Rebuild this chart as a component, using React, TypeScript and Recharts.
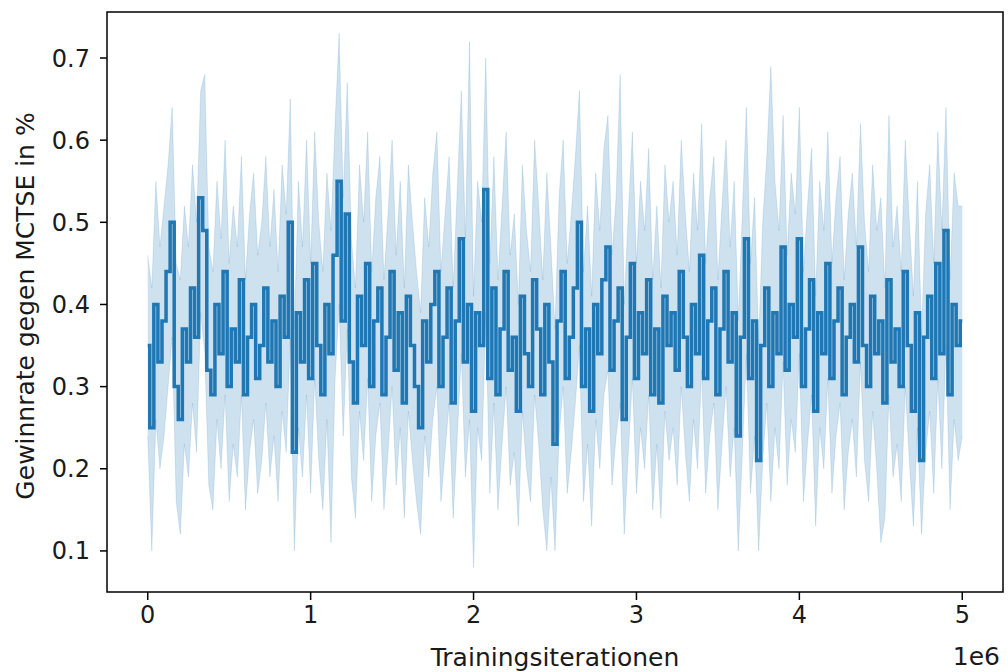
import React from 'react';
import { ComposedChart, Area, Line, XAxis, YAxis, ReferenceArea } from 'recharts';

const STEP = 25000;

const meanRate = [
  0.35, 0.25, 0.40, 0.33, 0.38, 0.44, 0.50, 0.30, 0.26, 0.37,
  0.33, 0.42, 0.36, 0.53, 0.49, 0.32, 0.29, 0.40, 0.34, 0.44,
  0.30, 0.37, 0.33, 0.43, 0.29, 0.36, 0.40, 0.31, 0.35, 0.42,
  0.33, 0.38, 0.30, 0.41, 0.36, 0.50, 0.22, 0.39, 0.33, 0.43,
  0.31, 0.45, 0.35, 0.29, 0.40, 0.34, 0.46, 0.55, 0.38, 0.51,
  0.33, 0.28, 0.41, 0.35, 0.45, 0.30, 0.38, 0.42, 0.29, 0.36,
  0.44, 0.32, 0.39, 0.28, 0.41, 0.35, 0.30, 0.25, 0.38, 0.33,
  0.40, 0.44, 0.30, 0.36, 0.42, 0.28, 0.38, 0.48, 0.33, 0.40,
  0.27, 0.39, 0.35, 0.54, 0.31, 0.42, 0.29, 0.37, 0.44, 0.32,
  0.36, 0.27, 0.41, 0.34, 0.30, 0.43, 0.37, 0.29, 0.40, 0.33,
  0.23, 0.38, 0.44, 0.31, 0.36, 0.42, 0.50, 0.30, 0.37, 0.27,
  0.40, 0.34, 0.43, 0.47, 0.32, 0.38, 0.42, 0.26, 0.36, 0.45,
  0.31, 0.39, 0.34, 0.43, 0.29, 0.37, 0.28, 0.41, 0.35, 0.39,
  0.32, 0.44, 0.36, 0.30, 0.40, 0.34, 0.46, 0.31, 0.38, 0.42,
  0.29, 0.37, 0.44, 0.33, 0.39, 0.24, 0.36, 0.48, 0.31, 0.38,
  0.21, 0.35, 0.42, 0.30, 0.39, 0.34, 0.47, 0.32, 0.40, 0.36,
  0.48, 0.30, 0.37, 0.43, 0.27, 0.39, 0.34, 0.45, 0.31, 0.38,
  0.42, 0.29, 0.36, 0.40, 0.33, 0.47, 0.35, 0.30, 0.41, 0.34,
  0.38, 0.28, 0.43, 0.33, 0.37, 0.30, 0.44, 0.35, 0.27, 0.39,
  0.21, 0.36, 0.41, 0.31, 0.45, 0.34, 0.49, 0.29, 0.40, 0.35,
  0.38,
];

const upperRate = [
  0.46, 0.42, 0.55, 0.47, 0.52, 0.57, 0.64, 0.45, 0.43, 0.52,
  0.47, 0.57, 0.50, 0.66, 0.68, 0.47, 0.44, 0.55, 0.48, 0.60,
  0.45, 0.52, 0.47, 0.58, 0.43, 0.51, 0.56, 0.46, 0.50, 0.58,
  0.47, 0.54, 0.44, 0.57, 0.51, 0.65, 0.37, 0.55, 0.47, 0.60,
  0.45, 0.61, 0.50, 0.44, 0.56, 0.49, 0.62, 0.73, 0.53, 0.67,
  0.48, 0.42, 0.57, 0.50, 0.61, 0.44, 0.53, 0.58, 0.43, 0.51,
  0.60, 0.46, 0.55, 0.42, 0.57, 0.50, 0.44, 0.39, 0.53, 0.47,
  0.56, 0.61, 0.44, 0.51, 0.58, 0.42, 0.54, 0.66, 0.48, 0.72,
  0.41, 0.55, 0.50, 0.70, 0.45, 0.58, 0.43, 0.52, 0.61, 0.46,
  0.51, 0.40, 0.57, 0.49, 0.44, 0.60, 0.52, 0.43, 0.56, 0.47,
  0.37, 0.53, 0.60, 0.45, 0.51, 0.58, 0.66, 0.44, 0.52, 0.41,
  0.56, 0.49, 0.59, 0.63, 0.46, 0.53, 0.68, 0.40, 0.51, 0.61,
  0.45, 0.55, 0.49, 0.59, 0.43, 0.52, 0.42, 0.57, 0.50, 0.55,
  0.46, 0.60, 0.51, 0.44, 0.56, 0.49, 0.62, 0.45, 0.53, 0.58,
  0.43, 0.52, 0.60, 0.47, 0.55, 0.38, 0.51, 0.64, 0.45, 0.53,
  0.35, 0.50, 0.58, 0.69, 0.55, 0.49, 0.63, 0.46, 0.56, 0.51,
  0.64, 0.44, 0.52, 0.59, 0.41, 0.55, 0.49, 0.61, 0.45, 0.53,
  0.58, 0.43, 0.51, 0.56, 0.47, 0.62, 0.50, 0.44, 0.57, 0.49,
  0.53, 0.42, 0.63, 0.47, 0.52, 0.44, 0.60, 0.50, 0.41, 0.55,
  0.36, 0.51, 0.57, 0.45, 0.61, 0.49, 0.64, 0.43, 0.56, 0.52,
  0.52,
];

const lowerRate = [
  0.24, 0.10, 0.26, 0.20, 0.24, 0.30, 0.36, 0.16, 0.12, 0.23,
  0.19, 0.28, 0.22, 0.39, 0.34, 0.18, 0.15, 0.26, 0.20, 0.29,
  0.16, 0.23, 0.19, 0.29, 0.15, 0.22, 0.26, 0.17, 0.21, 0.28,
  0.19, 0.24, 0.16, 0.27, 0.22, 0.36, 0.10, 0.25, 0.19, 0.29,
  0.17, 0.31, 0.21, 0.15, 0.26, 0.11, 0.31, 0.40, 0.24, 0.37,
  0.19, 0.14, 0.27, 0.21, 0.31, 0.16, 0.24, 0.28, 0.15, 0.22,
  0.30, 0.18, 0.25, 0.14, 0.27, 0.21, 0.16, 0.12, 0.24, 0.19,
  0.26, 0.30, 0.16, 0.22, 0.28, 0.14, 0.24, 0.34, 0.19, 0.26,
  0.08, 0.25, 0.21, 0.39, 0.17, 0.28, 0.15, 0.23, 0.30, 0.18,
  0.22, 0.13, 0.27, 0.20, 0.16, 0.29, 0.23, 0.15, 0.10, 0.19,
  0.10, 0.24, 0.30, 0.17, 0.22, 0.28, 0.35, 0.16, 0.23, 0.13,
  0.26, 0.20, 0.29, 0.32, 0.18, 0.24, 0.28, 0.12, 0.22, 0.31,
  0.17, 0.25, 0.20, 0.29, 0.15, 0.23, 0.14, 0.27, 0.21, 0.25,
  0.18, 0.30, 0.22, 0.16, 0.26, 0.20, 0.32, 0.17, 0.24, 0.28,
  0.15, 0.23, 0.30, 0.19, 0.25, 0.10, 0.22, 0.34, 0.17, 0.24,
  0.10, 0.21, 0.28, 0.16, 0.25, 0.20, 0.33, 0.18, 0.26, 0.22,
  0.34, 0.16, 0.23, 0.29, 0.13, 0.25, 0.20, 0.31, 0.17, 0.24,
  0.28, 0.15, 0.22, 0.26, 0.19, 0.33, 0.21, 0.16, 0.27, 0.20,
  0.11, 0.14, 0.29, 0.19, 0.23, 0.16, 0.30, 0.21, 0.13, 0.25,
  0.12, 0.22, 0.27, 0.17, 0.31, 0.20, 0.35, 0.15, 0.26, 0.21,
  0.24,
];

const xTicks = [0, 1000000, 2000000, 3000000, 4000000, 5000000];
const yTicks = [0.1, 0.2, 0.3, 0.4, 0.5, 0.6, 0.7];

const X_DOMAIN: [number, number] = [-250000, 5250000];
const Y_DOMAIN: [number, number] = [0.05, 0.756];

const data = meanRate.map((m, i) => ({
  iter: i * STEP,
  mean: m,
  band: [lowerRate[i], upperRate[i]],
}));

const FONT = 'DejaVu Sans';
const TEXT = '#1a1a1a';

const YTitle = () => (
  <text
    x={25}
    y={306}
    transform="rotate(-90 25 306)"
    textAnchor="middle"
    dominantBaseline="central"
    fontFamily={FONT}
    fontSize={25}
    fill={TEXT}
  >
    Gewinnrate gegen MCTSE in %
  </text>
);

const XTitle = () => (
  <text
    x={555}
    y={657}
    textAnchor="middle"
    dominantBaseline="central"
    fontFamily={FONT}
    fontSize={25}
    fill={TEXT}
  >
    Trainingsiterationen
  </text>
);

export default function App() {
  return (
    <div style={{ position: 'absolute', left: 0, top: 0, width: 1008, height: 672, background: '#fff' }}>
      <ComposedChart width={1008} height={672} data={data} margin={{ top: 12, right: 5, left: 0, bottom: 0 }}>
        <XAxis
          dataKey="iter"
          type="number"
          domain={X_DOMAIN}
          ticks={xTicks}
          allowDataOverflow
          tickFormatter={(v: number) => String(v / 1e6)}
          height={80}
          axisLine={false}
          tickSize={8}
          tickMargin={6}
          tickLine={{ stroke: '#000', strokeWidth: 1.5 }}
          tick={{ fontSize: 24, fill: TEXT, fontFamily: FONT }}
          label={{ content: () => <XTitle /> }}
        />
        <YAxis
          type="number"
          domain={Y_DOMAIN}
          ticks={yTicks}
          allowDataOverflow
          width={107}
          tickFormatter={(v: number) => v.toFixed(1)}
          axisLine={false}
          tickSize={7}
          tickMargin={10}
          tickLine={{ stroke: '#000', strokeWidth: 1.5 }}
          tick={{ fontSize: 24, fill: TEXT, fontFamily: FONT }}
          label={{ content: () => <YTitle /> }}
        />
        <Area
          dataKey="band"
          type="linear"
          stroke="#1f77b4"
          strokeOpacity={0.15}
          strokeWidth={1}
          fill="#1f77b4"
          fillOpacity={0.22}
          isAnimationActive={false}
        />
        <Line
          dataKey="mean"
          type="step"
          stroke="#1f77b4"
          strokeWidth={3.5}
          dot={false}
          isAnimationActive={false}
        />
        <ReferenceArea
          x1={X_DOMAIN[0]}
          x2={X_DOMAIN[1]}
          y1={Y_DOMAIN[0]}
          y2={Y_DOMAIN[1]}
          fill="none"
          stroke="#000"
          strokeWidth={1.5}
          ifOverflow="visible"
        />
      </ComposedChart>
      <div
        style={{
          position: 'absolute',
          right: 8,
          top: 643,
          fontFamily: FONT,
          fontSize: 25,
          color: TEXT,
          lineHeight: '28px',
        }}
      >
        1e6
      </div>
    </div>
  );
}
